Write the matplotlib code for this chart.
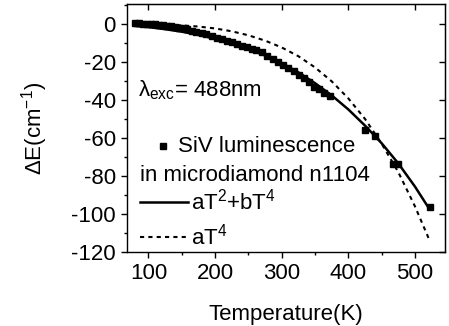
import matplotlib
matplotlib.use("Agg")
import matplotlib.pyplot as plt
from matplotlib.ticker import MultipleLocator

plt.rcParams["font.family"] = ["Liberation Sans", "DejaVu Sans"]
plt.rcParams["mathtext.fontset"] = "custom"
plt.rcParams["mathtext.rm"] = "Liberation Sans"
plt.rcParams["mathtext.it"] = "Liberation Sans:italic"
plt.rcParams["axes.unicode_minus"] = False

# SiV luminescence shift
temp_data = [80, 86, 92, 98, 104, 110, 116, 122, 128, 134, 140, 146, 152, 158,
             165, 172, 180, 187, 195, 203, 210, 218, 225, 233, 240, 248, 255,
             262, 270, 278, 287, 295, 302, 310, 318, 326, 333, 341, 348, 356,
             364, 372, 425, 440, 467, 474, 522]
shift_data = [0.3, 0.2, 0.1, 0.0, -0.1, -0.3, -0.5, -0.8, -1.0, -1.3, -1.7, -2.0,
              -2.4, -2.8, -3.6, -4.2, -5.0, -5.5, -6.3, -7.2, -8.0, -8.9, -9.7,
              -10.6, -11.4, -12.3, -13.2, -14.0, -14.6, -16.8, -18.6, -20.0,
              -21.5, -23.2, -25.0, -27.0, -28.5, -30.5, -33.0, -34.5, -36.5,
              -38.0, -56.0, -59.0, -73.5, -73.8, -96.5]

# fit curves
temp_fit = [80, 100, 125, 150, 175, 200, 225, 250, 275, 300, 325, 350, 375,
            400, 425, 450, 475, 500, 522]
fit_t2t4 = [-1.1, -1.7, -2.8, -4.1, -5.8, -7.8, -10.2, -13.2, -16.6, -20.7,
            -25.5, -31.2, -37.6, -45.0, -53.5, -62.8, -73.4, -85.6, -97.6]
fit_t4 = [-0.1, -0.15, -0.4, -0.8, -1.4, -2.4, -3.9, -6.0, -8.8, -12.4, -17.0,
          -22.9, -30.2, -39.2, -50.0, -63.0, -78.0, -96.0, -114.0]

FS = 16

fig = plt.figure(figsize=(4.49, 3.26), dpi=100)
ax = fig.add_axes([0.283, 0.227, 0.708, 0.761])

ax.plot(temp_data, shift_data, "s", color="black", ms=3.8, zorder=3)
ax.plot(temp_fit, fit_t2t4, "-", color="black", lw=1.8)
ax.plot(temp_fit, fit_t4, color="black", lw=1.5, ls=(0, (2, 2)))

ax.set_xlim(68, 545)
ax.set_ylim(-120, 10.5)
ax.xaxis.set_major_locator(MultipleLocator(100))
ax.xaxis.set_minor_locator(MultipleLocator(50))
ax.yaxis.set_major_locator(MultipleLocator(20))
ax.yaxis.set_minor_locator(MultipleLocator(10))
ax.tick_params(which="major", direction="out", length=4, width=1,
               labelsize=FS, pad=4, top=False, right=False)
ax.tick_params(which="minor", direction="out", length=2.5, width=1,
               top=False, right=False)
for s in ax.spines.values():
    s.set_linewidth(1.0)

# inward major ticks on top/right, no labels
sx = ax.secondary_xaxis("top")
sx.set_xticks([100, 200, 300, 400, 500])
sx.tick_params(direction="in", length=4, width=1)
sx.set_xticklabels([])
sy = ax.secondary_yaxis("right")
sy.set_yticks([0, -20, -40, -60, -80, -100, -120])
sy.tick_params(direction="in", length=4, width=1)
sy.set_yticklabels([])

ax.set_xlabel("Temperature(K)", fontsize=FS, labelpad=14)
ax.set_ylabel(r"$\Delta$E(cm$^{-1}$)", fontsize=FS, labelpad=15)

# legend drawn by hand in axes coordinates
tr = ax.transAxes
ax.text(0.035, 0.653, r"λ$_{\rm exc}$= 488nm", transform=tr, fontsize=FS,
        va="center", ha="left")
ax.plot([0.113], [0.427], "s", color="black", ms=3.8, transform=tr)
ax.text(0.16, 0.427, "SiV luminescence", transform=tr, fontsize=FS,
        va="center", ha="left")
ax.text(0.041, 0.31, "in microdiamond n1104", transform=tr, fontsize=FS,
        va="center", ha="left")
ax.plot([0.041, 0.192], [0.203, 0.203], "-", color="black", lw=1.8,
        transform=tr)
ax.text(0.2, 0.203, r"aT$^{2}$+bT$^{4}$", transform=tr, fontsize=FS,
        va="center", ha="left")
ax.plot([0.041, 0.192], [0.062, 0.062], color="black", lw=1.5,
        ls=(0, (2, 2)), transform=tr)
ax.text(0.2, 0.062, r"aT$^{4}$", transform=tr, fontsize=FS,
        va="center", ha="left")

fig.savefig("out.png", dpi=100)
plt.close(fig)
